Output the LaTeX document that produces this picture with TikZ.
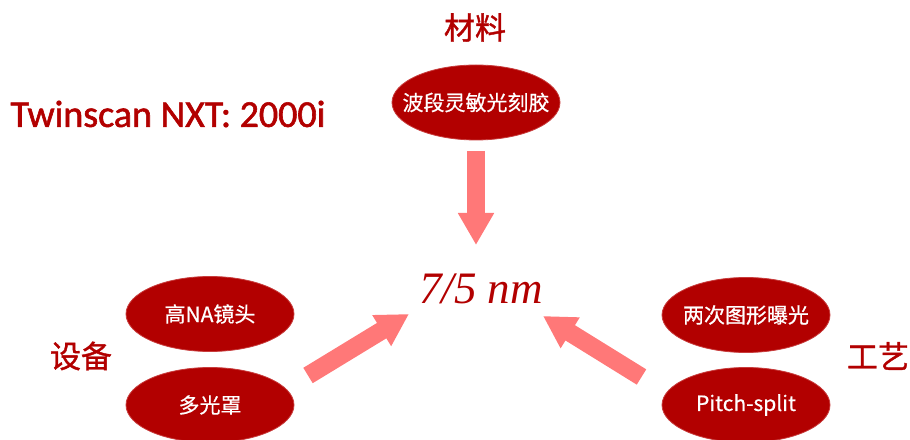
\documentclass[tikz,border=0pt]{standalone}
\usepackage{fontspec}
\usetikzlibrary{shapes.geometric,arrows.meta}
\newfontfamily\cjk[FakeBold=0.6]{Noto Sans CJK SC}
\newfontfamily\cjklabel[FakeBold=1.2]{Noto Sans CJK SC}
\newfontfamily\latinsans[FakeBold=1.5]{Carlito}
\newfontfamily\timesit{Liberation Serif}
\definecolor{darkred}{RGB}{178,0,0}
\definecolor{ellborder}{RGB}{200,60,60}
\definecolor{arrowred}{RGB}{255,120,120}
\tikzset{
  oval/.style={ellipse, fill=darkred, draw=ellborder, line width=0.8pt,
    minimum width=168pt, minimum height=75pt, inner sep=0pt,
    text=white, font=\cjk\fontsize{21}{24}\selectfont},
  catlabel/.style={text=darkred, font=\cjklabel\fontsize{31}{34}\selectfont, inner sep=0pt},
  fatarrow/.style={draw=arrowred, line width=18pt,
    -{Triangle[width=34pt,length=32pt]}}
}
\begin{document}
\begin{tikzpicture}[x=1pt,y=1pt]
\useasboundingbox (0,0) rectangle (910,439);
% labels
\node[catlabel] (cl1) at (475,411.5) {材料};
\node[catlabel] (cl2) at (81,83) {设备};
\node[catlabel] (cl3) at (878,83) {工艺};
\node[text=darkred, inner sep=0pt, font=\latinsans\fontsize{38}{40}\selectfont] (tw) at (168,325) {Twinscan NXT: 2000i};
% center
\node[text=darkred, inner sep=0pt, font=\timesit\itshape\fontsize{45}{48}\selectfont] (c) at (481,150) {7/5 nm};
% ellipses
\node[oval] (m1) at (476,336.5) {\makebox[0pt]{波段灵敏光刻胶}};
\node[oval] (e1) at (210,125) {\makebox[0pt]{高NA镜头}};
\node[oval] (e2) at (210,34) {\makebox[0pt]{多光罩}};
\node[oval] (p1) at (746,124) {\makebox[0pt]{两次图形曝光}};
\node[oval] (p2) at (746,34) {\makebox[0pt]{Pitch-split}};
% arrows
\coordinate (a1s) at (476,288);
\coordinate (a1e) at (476,194);
\coordinate (a2s) at (308,63.5);
\coordinate (a2e) at (409,125);
\coordinate (a3s) at (641.5,62);
\coordinate (a3e) at (543,123);
\draw[fatarrow] (a1s) -- (a1e);
\draw[fatarrow] (a2s) -- (a2e);
\draw[fatarrow] (a3s) -- (a3e);
\end{tikzpicture}
\end{document}
